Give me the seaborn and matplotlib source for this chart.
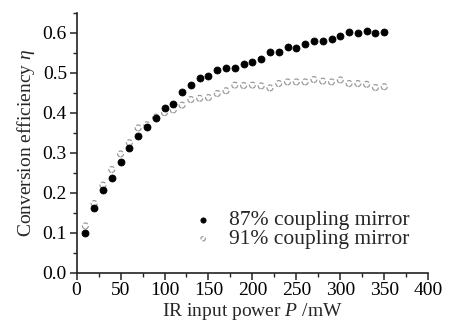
import numpy as np
import pandas as pd
import matplotlib
matplotlib.use("Agg")
import matplotlib.pyplot as plt
import seaborn as sns
from matplotlib.ticker import MultipleLocator

sns.set_style("ticks")
plt.rcParams['font.family'] = ['Liberation Serif', 'DejaVu Serif']
plt.rcParams['mathtext.fontset'] = 'custom'
plt.rcParams['mathtext.rm'] = 'Liberation Serif'
plt.rcParams['mathtext.it'] = 'Liberation Serif:italic'

# IR input power (mW)
power = [10, 20, 30, 40, 50, 60, 70, 80, 90, 100, 110, 120, 130, 140, 150, 160, 170, 180,
         190, 200, 210, 220, 230, 240, 250, 260, 270, 280, 290, 300, 310, 320, 330, 340, 350]

# 87% coupling mirror
eff_87 = [0.100, 0.161, 0.208, 0.238, 0.278, 0.313, 0.342, 0.365, 0.388, 0.412, 0.423, 0.451,
          0.470, 0.486, 0.492, 0.508, 0.511, 0.513, 0.523, 0.528, 0.535, 0.551, 0.553, 0.565,
          0.561, 0.572, 0.580, 0.579, 0.585, 0.593, 0.602, 0.599, 0.604, 0.600, 0.601]

# 91% coupling mirror
eff_91 = [0.117, 0.173, 0.219, 0.258, 0.297, 0.325, 0.362, 0.370, 0.389, 0.400, 0.407, 0.419,
          0.433, 0.436, 0.438, 0.448, 0.455, 0.469, 0.468, 0.469, 0.467, 0.462, 0.473, 0.477,
          0.477, 0.477, 0.483, 0.479, 0.477, 0.482, 0.473, 0.473, 0.471, 0.463, 0.465]

df = pd.DataFrame({'power': power, 'eff_87': eff_87, 'eff_91': eff_91})

fig = plt.figure(figsize=(4.56, 3.27), dpi=100)
ax = fig.add_axes([0.168, 0.166, 0.771, 0.795])

sns.scatterplot(data=df, x='power', y='eff_87', ax=ax, color='black', s=26,
                edgecolor='black', linewidth=0.5, label='87% coupling mirror', zorder=3)
sns.scatterplot(data=df, x='power', y='eff_91', ax=ax, s=18, marker='o',
                facecolor='none', edgecolor='#9a9a9a', linewidth=0.9,
                linestyle='--', label='91% coupling mirror', zorder=2)

ax.set_xlim(0, 400)
ax.set_ylim(0, 0.65)
ax.xaxis.set_major_locator(MultipleLocator(50))
ax.xaxis.set_minor_locator(MultipleLocator(25))
ax.yaxis.set_major_locator(MultipleLocator(0.1))
ax.yaxis.set_minor_locator(MultipleLocator(0.05))
ax.set_yticks(np.arange(0, 0.61, 0.1))
ax.set_yticklabels([f"{v:.1f}" for v in np.arange(0, 0.61, 0.1)])

for side in ['top', 'right']:
    ax.spines[side].set_visible(False)
for side in ['left', 'bottom']:
    ax.spines[side].set_linewidth(1.2)
    ax.spines[side].set_color('#222222')

ax.tick_params(which='major', direction='out', length=5, width=1.1, labelsize=14, pad=2,
               color='#222222', labelcolor='black')
ax.tick_params(which='minor', direction='out', length=3, width=1.0, color='#222222')

ax.set_xlabel('IR input power $\\mathit{P}$ /mW', fontsize=14, labelpad=1)
ax.set_ylabel('Conversion efficiency $\\mathit{\\eta}$', fontsize=14, labelpad=4)

ax.legend(loc='lower right', bbox_to_anchor=(0.99, 0.032), frameon=False, fontsize=15.5,
          handletextpad=0.2, labelspacing=-0.05, borderpad=0.2, markerscale=0.75)

fig.savefig('out.png', dpi=100)
